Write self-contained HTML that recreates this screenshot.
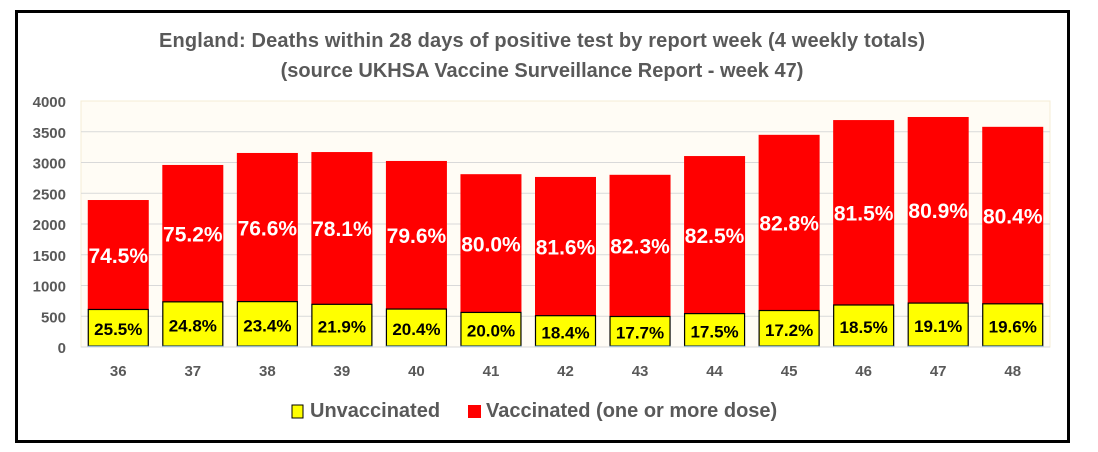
<!DOCTYPE html>
<html><head><meta charset="utf-8"><style>
body{margin:0;background:#fff;width:1098px;height:452px;overflow:hidden;font-family:"Liberation Sans",sans-serif;}
</style></head><body>
<svg id="chart" width="1098" height="452" style="position:absolute;left:0;top:0">
<rect x="16.5" y="11.5" width="1052" height="430" fill="#fff" stroke="#000" stroke-width="3"/>
<text x="542" y="47" text-anchor="middle" font-size="20" font-weight="bold" fill="#595959" textLength="766">England: Deaths within 28 days of positive test by report week (4 weekly totals)</text>
<text x="542" y="77" text-anchor="middle" font-size="20" font-weight="bold" fill="#595959">(source UKHSA Vaccine Surveillance Report - week 47)</text>
<rect x="81" y="101" width="969" height="246" fill="#fffcf5" stroke="#f5ecd5"/>
<g id="grid"></g><g id="bars"></g><g id="axes"></g>
<rect x="292" y="405" width="11" height="13" fill="#ffff00" stroke="#000"/>
<text x="310" y="417" font-size="20" font-weight="bold" fill="#595959">Unvaccinated</text>
<rect x="468" y="405" width="13" height="13" fill="#ff0000"/>
<text x="486" y="417" font-size="20" font-weight="bold" fill="#595959">Vaccinated (one or more dose)</text>
</svg>
<script>
const weeks=["36","37","38","39","40","41","42","43","44","45","46","47","48"];
const unvaccinated=[610,734,738,694,617,562,509,496,543,593,683,714,702];
const vaccinated=[1780,2226,2417,2476,2408,2248,2256,2304,2562,2857,3007,3026,2878];
const unvaxLabels=["25.5%","24.8%","23.4%","21.9%","20.4%","20.0%","18.4%","17.7%","17.5%","17.2%","18.5%","19.1%","19.6%"];
const vaxLabels=["74.5%","75.2%","76.6%","78.1%","79.6%","80.0%","81.6%","82.3%","82.5%","82.8%","81.5%","80.9%","80.4%"];
const yTicks=[0,500,1000,1500,2000,2500,3000,3500,4000];
const NS="http://www.w3.org/2000/svg";
const X0=81,X1=1050,Y0=347,Y1=101,YMAX=4000;
const step=(X1-X0)/weeks.length,bw=61;
const y=v=>Y0-(v/YMAX)*(Y0-Y1);
const xc=i=>X0+step*(i+0.5);
function mk(tag,attrs,parent){const e=document.createElementNS(NS,tag);for(const k in attrs)e.setAttribute(k,attrs[k]);parent.appendChild(e);return e;}
const grid=document.getElementById('grid'),bars=document.getElementById('bars'),axes=document.getElementById('axes');
yTicks.forEach(t=>{
 if(t>0&&t<YMAX){const l=mk('line',{x1:X0,x2:X1,y1:y(t),y2:y(t),stroke:'#d9d9d9'},grid);
 
 }
 const tx=mk('text',{x:66,y:y(t)+6,'text-anchor':'end','font-size':15,'font-weight':'bold',fill:'#595959'},axes);
 tx.textContent=t;
 
 
});
const base=mk('line',{x1:X0,x2:X1,y1:Y0,y2:Y0,stroke:'#d9d9d9'},axes);


weeks.forEach((w,i)=>{
 const x=xc(i)-bw/2,u=unvaccinated[i],v=vaccinated[i];
 const r=mk('rect',{x:x,y:y(u+v),width:bw,height:y(u)-y(u+v),fill:'#ff0000'},bars);
 
 
 const ry=mk('rect',{x:x+0.5,y:y(u),width:bw-1,height:y(0)-y(u)-1,fill:'#ffff00',stroke:'#000','stroke-width':1.2},bars);
 
 
 const bl=mk('line',{x1:x,x2:x+bw,y1:Y0-0.5,y2:Y0-0.5,stroke:'#5b9bd5','stroke-width':1.5},bars);
 
 
 const tv=mk('text',{x:xc(i),y:(y(u+v)+y(u))/2+8,'text-anchor':'middle','font-size':21,'font-weight':'bold',fill:'#fff'},bars);
 tv.textContent=vaxLabels[i];
 
 
 const tu=mk('text',{x:xc(i),y:(y(u)+Y0)/2+7,'text-anchor':'middle','font-size':17,'font-weight':'bold',fill:'#000'},bars);
 tu.textContent=unvaxLabels[i];
 
 
 const tx=mk('text',{x:xc(i),y:376,'text-anchor':'middle','font-size':15,'font-weight':'bold',fill:'#595959'},axes);
 tx.textContent=w;
 
 
});
</script>
</body></html>
